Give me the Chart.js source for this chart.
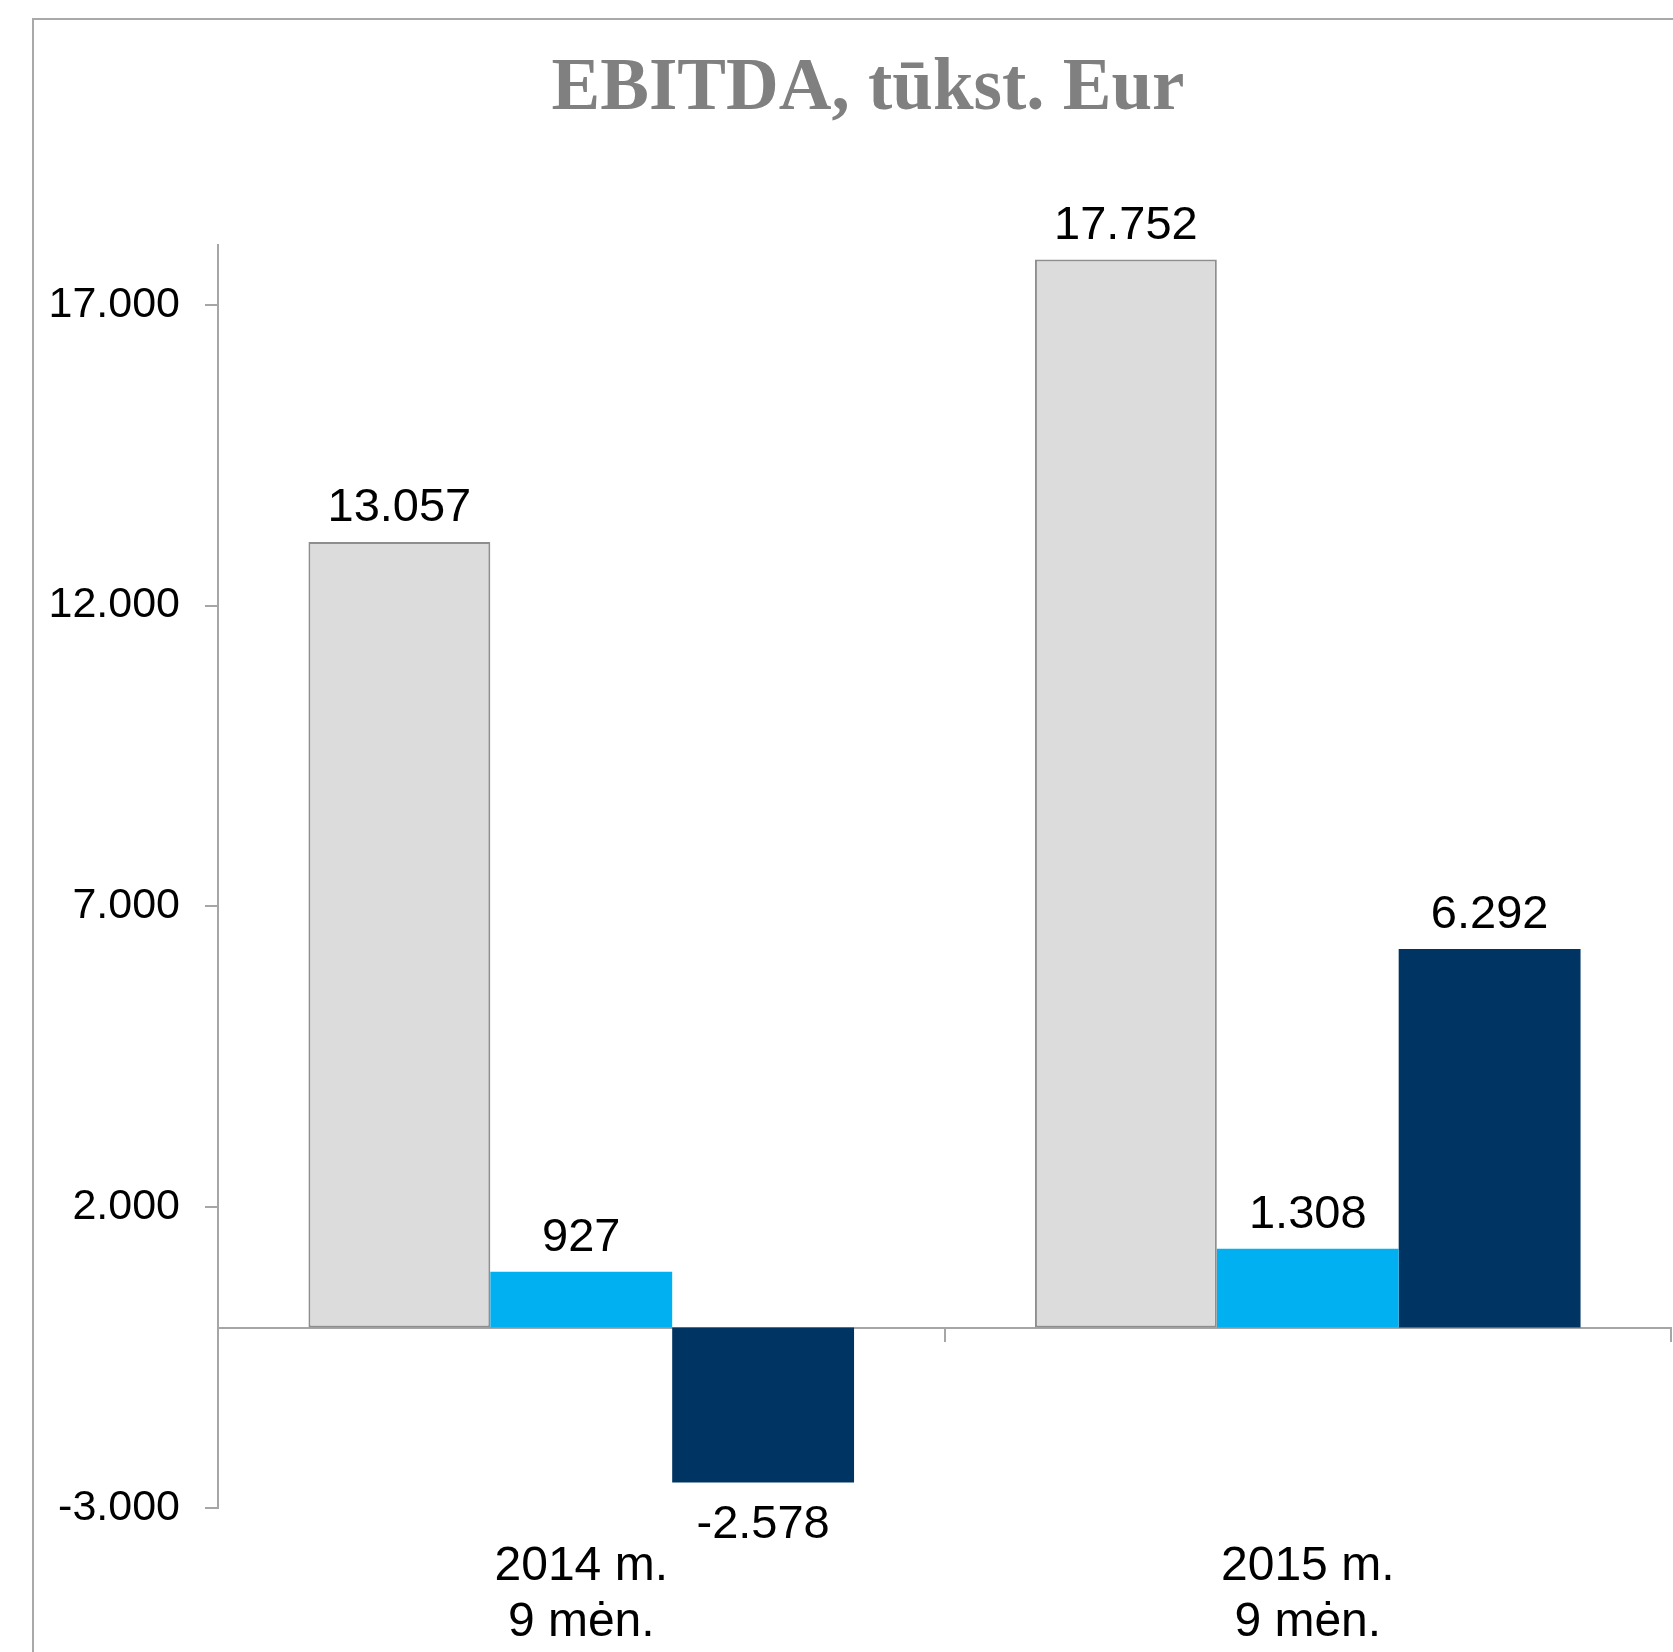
<!DOCTYPE html>
<html>
<head>
<meta charset="utf-8">
<title>EBITDA, tūkst. Eur</title>
<script src="https://cdn.jsdelivr.net/npm/chart.js@4/dist/chart.umd.min.js"></script>
<style>
    html, body {
        margin: 0;
        padding: 0;
        background: #ffffff;
        overflow: hidden;
    }
    #frame {
        position: absolute;
        left: 32px;
        top: 18px;
        width: 2000px;
        height: 2000px;
        border-left: 2px solid #a9a9a9;
        border-top: 2px solid #a9a9a9;
    }
    /* the chart frame runs off the right edge, so the canvas does too */
    #wrap {
        position: absolute;
        left: 0;
        top: 0;
        width: 1738px;
        height: 1652px;
    }
</style>
</head>
<body>
<div id="frame"></div>
<div id="wrap"><canvas id="ebitdaChart"></canvas></div>
<script>
// chart data
const chartTitle = 'EBITDA, tūkst. Eur';
const categories = [['2014 m.', '9 mėn.'], ['2015 m.', '9 mėn.']];
const series1Values = [13057, 17752];
const series2Values = [927, 1308];
const series3Values = [-2578, 6292];
const yTickValues = [-3000, 2000, 7000, 12000, 17000];
const yMin = -3000;
const yMax = 18000;

const axisGrey = '#a6a6a6';

// 13057 -> "13.057"
function formatNumber(v) {
    const s = String(Math.abs(Math.round(v))).replace(/\B(?=(\d{3})+(?!\d))/g, '.');
    return v < 0 ? '-' + s : s;
}

// draws value labels above positive bars and below negative ones
const valueLabels = {
    id: 'valueLabels',
    afterDatasetsDraw(chart) {
        const ctx = chart.ctx;
        ctx.save();
        ctx.font = '47px "Liberation Sans", Arial, sans-serif';
        ctx.fillStyle = '#000000';
        ctx.textAlign = 'center';
        ctx.textBaseline = 'alphabetic';
        chart.data.datasets.forEach((ds, i) => {
            const meta = chart.getDatasetMeta(i);
            meta.data.forEach((bar, j) => {
                const v = ds.data[j];
                const y = v >= 0 ? bar.y - 21 : bar.y + 55;
                ctx.fillText(formatNumber(v), bar.x, y);
            });
        });
        ctx.restore();
    }
};

const ctx = document.getElementById('ebitdaChart').getContext('2d');
new Chart(ctx, {
    type: 'bar',
    data: {
        labels: categories,
        datasets: [
            {
                label: 'Series 1',
                data: series1Values,
                backgroundColor: '#dcdcdc',
                borderColor: '#8e8e8e',
                borderWidth: 2,
                borderSkipped: false
            },
            {
                label: 'Series 2',
                data: series2Values,
                backgroundColor: '#00b0f0',
                borderWidth: 0
            },
            {
                label: 'Series 3',
                data: series3Values,
                backgroundColor: '#003463',
                borderWidth: 0
            }
        ]
    },
    options: {
        responsive: true,
        maintainAspectRatio: false,
        animation: false,
        datasets: {
            bar: {
                categoryPercentage: 0.751,
                barPercentage: 1.0
            }
        },
        layout: {
            padding: { left: 0, right: 2, top: 0, bottom: 3 }
        },
        plugins: {
            legend: { display: false },
            tooltip: { enabled: false },
            title: {
                display: true,
                text: chartTitle,
                color: '#808080',
                font: {
                    family: '"Liberation Serif", "Times New Roman", serif',
                    size: 73,
                    weight: 'bold',
                    lineHeight: 1.2
                },
                padding: { top: 46, bottom: 111 }
            }
        },
        scales: {
            x: {
                type: 'category',
                position: { y: 0 },
                offset: true,
                grid: {
                    offset: true,
                    drawOnChartArea: false,
                    tickLength: 13,
                    color: axisGrey,
                    lineWidth: 2
                },
                border: { color: axisGrey, width: 2 },
                ticks: { display: false }
            },
            x2: {
                type: 'category',
                position: 'bottom',
                offset: true,
                afterFit(scale) {
                    scale.height = 141;
                },
                grid: { display: false, drawTicks: false },
                border: { display: false },
                ticks: {
                    color: '#000000',
                    padding: 31,
                    maxRotation: 0,
                    autoSkip: false,
                    font: {
                        family: '"Liberation Sans", Arial, sans-serif',
                        size: 48,
                        lineHeight: 1.167
                    }
                }
            },
            y: {
                min: yMin,
                max: yMax,
                afterBuildTicks(scale) {
                    scale.ticks = yTickValues.map(v => ({ value: v }));
                },
                afterFit(scale) {
                    scale.width = 218;
                },
                grid: {
                    drawOnChartArea: false,
                    tickLength: 13,
                    color: axisGrey,
                    lineWidth: 2
                },
                border: { color: axisGrey, width: 2 },
                ticks: {
                    color: '#000000',
                    padding: 25,
                    font: {
                        family: '"Liberation Sans", Arial, sans-serif',
                        size: 43
                    },
                    callback: (v) => formatNumber(v)
                }
            },
            // empty strip on the right, the part of the frame cut off by the image edge
            yRight: {
                position: 'right',
                afterFit(scale) {
                    scale.width = 65;
                },
                grid: { display: false, drawTicks: false },
                border: { display: false },
                ticks: { display: false }
            }
        }
    },
    plugins: [valueLabels]
});
</script>
</body>
</html>
